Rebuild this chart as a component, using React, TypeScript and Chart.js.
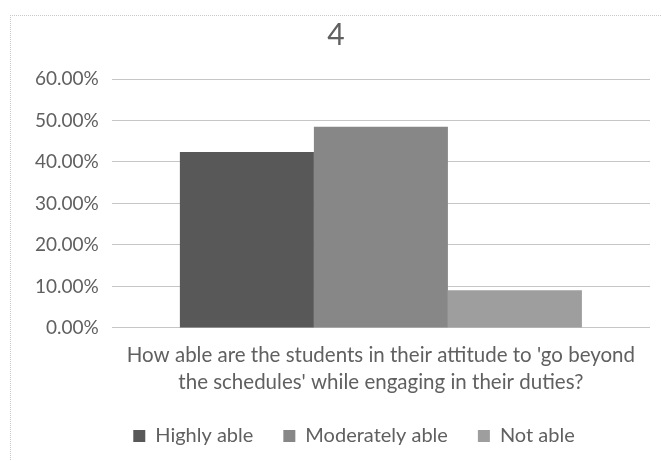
import React, { useEffect, useRef } from "react";
import { Chart, registerables } from "chart.js";

Chart.register(...registerables);

const chartTitle = "4";
const categories = [""];
const seriesNames = ["Highly able", "Moderately able", "Not able"];
const highlyAble = [42.42];
const moderatelyAble = [48.48];
const notAble = [9.09];
const axisTitle = [
  "How able are the students in their attitude to 'go beyond",
  "the schedules' while engaging in their duties?",
];
const yMax = 60;
const yStep = 10;

const FONT = "Lato, 'Open Sans', sans-serif";
const TEXT = "#606060";

const legendShift = {
  id: "legendShift",
  afterLayout(chart: any) {
    if (chart.legend) {
      chart.legend.left += 18;
      chart.legend.right += 18;
    }
  },
};

export default function App() {
  const ref = useRef<HTMLCanvasElement | null>(null);
  useEffect(() => {
    if (!ref.current) return;
    const chart = new Chart(ref.current, {
      type: "bar",
      data: {
        labels: categories,
        datasets: [
          { label: seriesNames[0], data: highlyAble, backgroundColor: "#585858" },
          { label: seriesNames[1], data: moderatelyAble, backgroundColor: "#878787" },
          { label: seriesNames[2], data: notAble, backgroundColor: "#9e9e9e" },
        ],
      },
      options: {
        animation: false,
        responsive: false,
        maintainAspectRatio: false,
        layout: { padding: { left: 12, right: 11, top: 0, bottom: 5 } },
        datasets: { bar: { categoryPercentage: 0.747, barPercentage: 1 } },
        plugins: {
          title: {
            display: true,
            text: chartTitle,
            color: TEXT,
            font: { family: FONT, size: 30, weight: "normal" },
            padding: { top: 2, bottom: 26 },
          },
          legend: {
            position: "bottom",
            labels: {
              color: TEXT,
              font: { family: FONT, size: 20 },
              boxWidth: 12,
              boxHeight: 12,
              padding: 30,
            },
          },
          tooltip: { enabled: false },
        },
        scales: {
          x: {
            grid: { display: false },
            border: { display: false },
            ticks: { display: false },
            title: {
              display: true,
              text: axisTitle,
              color: TEXT,
              font: { family: FONT, size: 20.5, lineHeight: 1.32 },
              padding: { top: 6, bottom: 0 },
            },
          },
          y: {
            min: 0,
            max: yMax,
            border: { display: false },
            grid: { color: "#c6c6c6", drawTicks: false, lineWidth: 1, borderDash: [2, 1] } as any,
            ticks: {
              stepSize: yStep,
              color: TEXT,
              padding: 13,
              font: { family: FONT, size: 19 },
              callback: (v: any) => Number(v).toFixed(2) + "%",
            },
          },
        },
      },
      plugins: [legendShift],
    });
    return () => chart.destroy();
  }, []);
  return (
    <div style={{ position: "fixed", left: 0, top: 0, width: 661, height: 461, background: "#fff" }}>
      <div
        style={{
          position: "absolute",
          left: 10,
          top: 15,
          width: 660,
          height: 460,
          borderLeft: "1px dotted #c8c8c8",
          borderTop: "1px dotted #c8c8c8",
        }}
      />
      <canvas ref={ref} width={651} height={446} style={{ position: "absolute", left: 10, top: 15 }} />
    </div>
  );
}
